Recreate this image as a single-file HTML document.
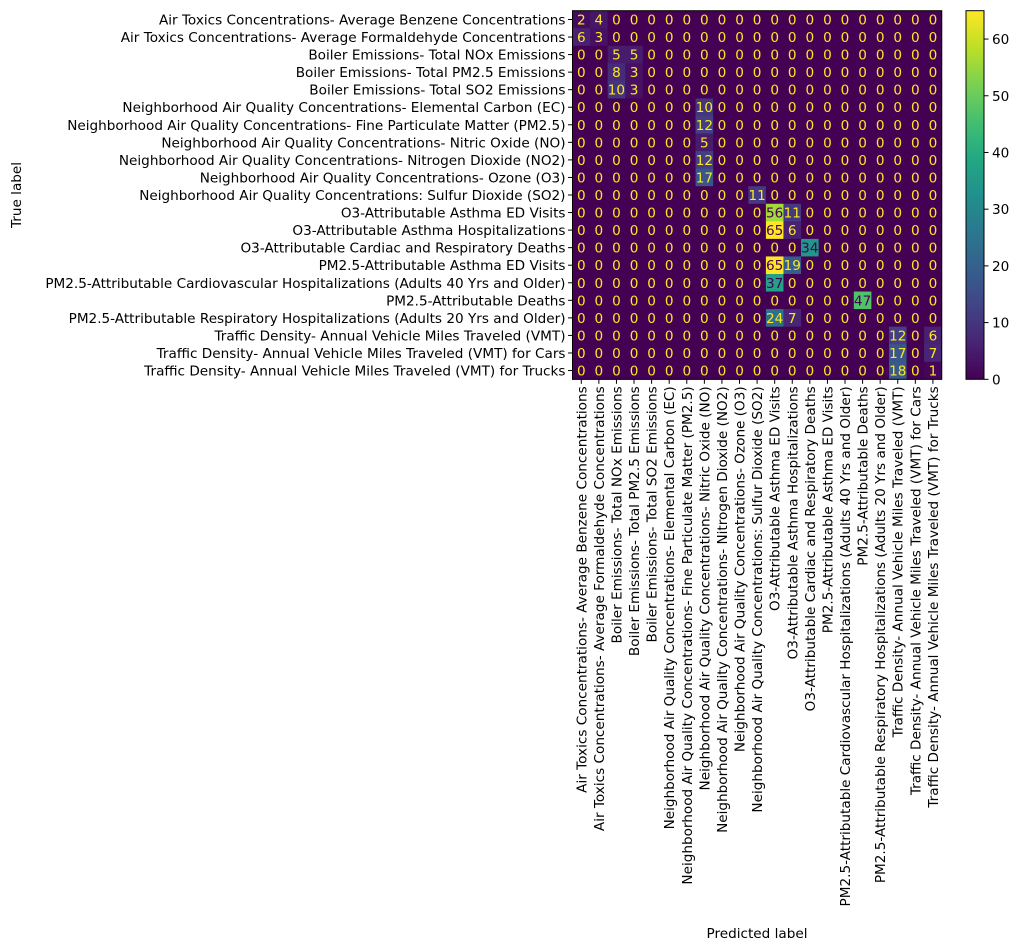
<!DOCTYPE html>
<html><head><meta charset="utf-8"><style>
html,body{margin:0;padding:0;background:#fff;}
svg{display:block;font-family:"DejaVu Sans","Liberation Sans",sans-serif;}
</style></head><body>
<svg id="chart" width="1021" height="951" viewBox="0 0 1021 951" xmlns="http://www.w3.org/2000/svg"></svg>
<script>
const labels = [
"Air Toxics Concentrations- Average Benzene Concentrations",
"Air Toxics Concentrations- Average Formaldehyde Concentrations",
"Boiler Emissions- Total NOx Emissions",
"Boiler Emissions- Total PM2.5 Emissions",
"Boiler Emissions- Total SO2 Emissions",
"Neighborhood Air Quality Concentrations- Elemental Carbon (EC)",
"Neighborhood Air Quality Concentrations- Fine Particulate Matter (PM2.5)",
"Neighborhood Air Quality Concentrations- Nitric Oxide (NO)",
"Neighborhood Air Quality Concentrations- Nitrogen Dioxide (NO2)",
"Neighborhood Air Quality Concentrations- Ozone (O3)",
"Neighborhood Air Quality Concentrations: Sulfur Dioxide (SO2)",
"O3-Attributable Asthma ED Visits",
"O3-Attributable Asthma Hospitalizations",
"O3-Attributable Cardiac and Respiratory Deaths",
"PM2.5-Attributable Asthma ED Visits",
"PM2.5-Attributable Cardiovascular Hospitalizations (Adults 40 Yrs and Older)",
"PM2.5-Attributable Deaths",
"PM2.5-Attributable Respiratory Hospitalizations (Adults 20 Yrs and Older)",
"Traffic Density- Annual Vehicle Miles Traveled (VMT)",
"Traffic Density- Annual Vehicle Miles Traveled (VMT) for Cars",
"Traffic Density- Annual Vehicle Miles Traveled (VMT) for Trucks"];
// nonzero entries: [row, col, value]
const nonzero = [
[0,0,2],[0,1,4],[1,0,6],[1,1,3],[2,2,5],[2,3,5],[3,2,8],[3,3,3],[4,2,10],[4,3,3],
[5,7,10],[6,7,12],[7,7,5],[8,7,12],[9,7,17],[10,10,11],
[11,11,56],[11,12,11],[12,11,65],[12,12,6],[13,13,34],[14,11,65],[14,12,19],
[15,11,37],[16,16,47],[17,11,24],[17,12,7],
[18,18,12],[18,20,6],[19,18,17],[19,20,7],[20,18,18],[20,20,1]];
const cbTicks = [0,10,20,30,40,50,60];

const N = labels.length;
const M = [];
for (let r=0;r<N;r++){M.push(new Array(N).fill(0));}
nonzero.forEach(e=>{M[e[0]][e[1]]=e[2];});
let vmax = 0; M.forEach(r=>r.forEach(v=>{if(v>vmax)vmax=v;}));

const X0=572.5, Y0=10.7, W=369.2, H=368.6;
const cw=W/N, ch=H/N;
const xs = i=>X0+i*cw, ys = i=>Y0+i*ch;
const vir=["#440154","#482475","#414487","#355f8d","#2a788e","#21918c","#22a884","#44bf70","#7ad151","#bddf26","#fde725"];
function hex(h){return [1,3,5].map(i=>parseInt(h.substr(i,2),16));}
function cmap(t){t=Math.max(0,Math.min(1,t));const p=t*10,i=Math.min(9,Math.floor(p)),f=p-i;
const a=hex(vir[i]),b=hex(vir[i+1]);return "rgb("+a.map((v,k)=>Math.round(v+(b[k]-v)*f)).join(",")+")";}
const svg=document.getElementById('chart');
const NS="http://www.w3.org/2000/svg";
function mk(tag,attrs,parent){const e=document.createElementNS(NS,tag);for(const k in attrs)e.setAttribute(k,attrs[k]);(parent||svg).appendChild(e);return e;}
const FS=13.6;
const g=mk('g',{});


for(let r=0;r<N;r++)for(let c=0;c<N;c++){
  const v=M[r][c];
  const rc=mk('rect',{x:xs(c),y:ys(r),width:cw+0.4,height:ch+0.4,fill:cmap(v/vmax)},g);
  
  
  const t=mk('text',{x:xs(c)+cw/2,y:ys(r)+ch/2+5,'text-anchor':'middle','font-size':FS,fill:(v>vmax/2)?"#440154":"#fde725"},g);
  
  
  t.textContent=v;
}
const fr=mk('rect',{x:X0,y:Y0,width:W,height:H,fill:'none',stroke:'#000','stroke-width':1});


for(let i=0;i<N;i++){
  const cy=ys(i)+ch/2, cx=xs(i)+cw/2;
  mk('line',{x1:X0-4.5,x2:X0,y1:cy,y2:cy,stroke:'#000','stroke-width':1});
  mk('line',{x1:cx,x2:cx,y1:Y0+H,y2:Y0+H+4.5,stroke:'#000','stroke-width':1});
  const yl=mk('text',{x:X0-7,y:cy+5,'text-anchor':'end','font-size':FS,fill:'#000'});
  
  
  yl.textContent=labels[i];
  const xl=mk('text',{transform:'translate('+(cx+5)+','+(Y0+H+7)+') rotate(-90)','text-anchor':'end','font-size':FS,fill:'#000'});
  
  
  xl.textContent=labels[i];
}
const yt=mk('text',{transform:'translate(21,195) rotate(-90)','text-anchor':'middle','font-size':FS,fill:'#000'});


yt.textContent='True label';
const xt=mk('text',{x:757,y:938,'text-anchor':'middle','font-size':FS,fill:'#000'});


xt.textContent='Predicted label';
// colorbar
const CBX=966,CBW=18,CBT=Y0,CBH=H;
const defs=mk('defs',{});
const lg=mk('linearGradient',{id:'vg',x1:0,y1:1,x2:0,y2:0},defs);
vir.forEach((c,i)=>mk('stop',{offset:(i/10),'stop-color':c},lg));
const cb=mk('rect',{x:CBX,y:CBT,width:CBW,height:CBH,fill:'url(#vg)',stroke:'#000','stroke-width':1});


cbTicks.forEach(v=>{
  const y=CBT+CBH-v/vmax*CBH;
  mk('line',{x1:CBX+CBW,x2:CBX+CBW+4.5,y1:y,y2:y,stroke:'#000','stroke-width':1});
  const t=mk('text',{x:CBX+CBW+8,y:y+5,'font-size':FS,fill:'#000'});
  
  
  t.textContent=v;
});
</script>
</body></html>
